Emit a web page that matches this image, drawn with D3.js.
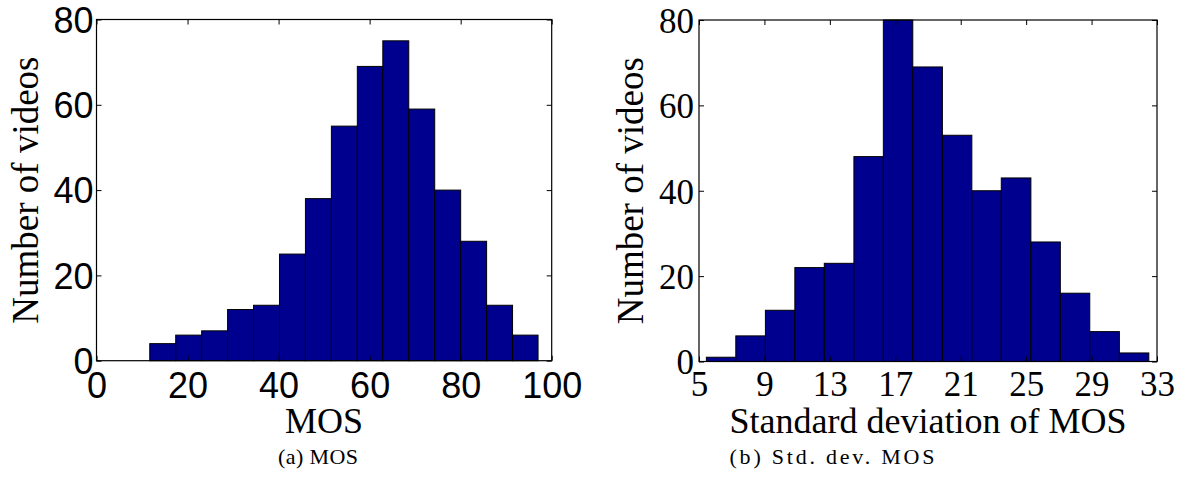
<!DOCTYPE html>
<html>
<head>
<meta charset="utf-8">
<script src="https://cdn.jsdelivr.net/npm/d3@7"></script>
<style>
  body { margin: 0; background: #fff; }
  svg { display: block; }
</style>
</head>
<body>
<svg id="chart" width="1180" height="480"></svg>
<script>
// dữ liệu: biên các bin và số video trong từng bin
const mosEdges = [11.7, 17.4, 23.1, 28.8, 34.5, 40.2, 45.9, 51.6, 57.3, 62.9, 68.6, 74.3, 80.0, 85.7, 91.4, 97.0];
const mosCounts = [4, 6, 7, 12, 13, 25, 38, 55, 69, 75, 59, 40, 28, 13, 6];
const sdEdges = [5.45, 7.25, 9.06, 10.86, 12.66, 14.47, 16.27, 18.07, 19.88, 21.68, 23.48, 25.29, 27.09, 28.89, 30.70, 32.50];
const sdCounts = [1, 6, 12, 22, 23, 48, 80, 69, 53, 40, 43, 28, 16, 7, 2];

const mosTicks = [0, 20, 40, 60, 80, 100];
const sdTicks = [5, 9, 13, 17, 21, 25, 29, 33];
const countTicks = [0, 20, 40, 60, 80];

const svg = d3.select("#chart");
const barColor = "#00008f";
const serif = "'Liberation Serif', 'Times New Roman', serif";
const sans = "'Liberation Sans', Arial, Helvetica, sans-serif";

function drawPanel(p) {
  const x = d3.scaleLinear().domain(p.xDomain).range([p.left, p.right]);
  const y = d3.scaleLinear().domain([0, 80]).range([p.bottom, p.top]);

  const bins = p.counts.map((c, i) => ({ x0: p.edges[i], x1: p.edges[i + 1], count: c }));

  // vẽ cột
  svg.append("g").selectAll("rect")
    .data(bins)
    .enter()
    .append("rect")
    .attr("x", d => x(d.x0))
    .attr("y", d => y(d.count))
    .attr("width", d => x(d.x1) - x(d.x0))
    .attr("height", d => y(0) - y(d.count))
    .attr("fill", barColor)
    .attr("stroke", "#000")
    .attr("stroke-width", 1);

  // trục x dưới
  const xb = svg.append("g")
    .attr("transform", `translate(0,${p.bottom})`)
    .call(d3.axisBottom(x).tickValues(p.xTicks).tickSize(-5).tickPadding(p.xPad).tickFormat(d3.format("d")));
  // trục x trên (chỉ vạch)
  const xt = svg.append("g")
    .attr("transform", `translate(0,${p.top})`)
    .call(d3.axisTop(x).tickValues(p.xTicks).tickSize(-5).tickFormat(""));
  // trục y trái
  const yl = svg.append("g")
    .attr("transform", `translate(${p.left},0)`)
    .call(d3.axisLeft(y).tickValues(countTicks).tickSize(-5).tickPadding(p.yPad));
  // trục y phải (chỉ vạch)
  const yr = svg.append("g")
    .attr("transform", `translate(${p.right},0)`)
    .call(d3.axisRight(y).tickValues(countTicks).tickSize(-5).tickFormat(""));

  [xb, xt, yl, yr].forEach(g => {
    g.select(".domain").remove();
    g.selectAll(".tick line").attr("stroke", "#000").attr("stroke-width", 1);
  });
  [xb, yl].forEach(g => {
    g.selectAll(".tick text")
      .attr("fill", "#000")
      .style("font-family", p.tickFont)
      .style("font-size", p.tickSize + "px");
  });
  yl.selectAll(".tick text").attr("dy", "0.35em");

  // khung
  svg.append("rect")
    .attr("x", p.left)
    .attr("y", p.top)
    .attr("width", p.right - p.left)
    .attr("height", p.bottom - p.top)
    .attr("fill", "none")
    .attr("stroke", "#000")
    .attr("stroke-width", 1.2);

  // tên trục x
  svg.append("text")
    .attr("x", (p.left + p.right) / 2)
    .attr("y", 433)
    .attr("text-anchor", "middle")
    .style("font-family", serif)
    .style("font-size", "36px")
    .text(p.xLabel);

  // tên trục y
  svg.append("text")
    .attr("transform", `translate(${p.yLabelX},${(p.top + p.bottom) / 2}) rotate(-90)`)
    .attr("text-anchor", "middle")
    .style("font-family", serif)
    .style("font-size", "37px")
    .text("Number of videos");

  // chú thích dưới hình
  svg.append("text")
    .attr("x", p.captionX)
    .attr("y", 464)
    .attr("text-anchor", "middle")
    .attr("textLength", p.captionLen)
    .attr("lengthAdjust", "spacing")
    .style("font-family", serif)
    .style("font-size", "22px")
    .text(p.caption);
}

drawPanel({
  left: 96.5, right: 551.7, top: 19.5, bottom: 360.7,
  xDomain: [0, 100], xTicks: mosTicks,
  edges: mosEdges, counts: mosCounts,
  tickFont: sans, tickSize: 36, xPad: 12, yPad: 3,
  xLabel: "MOS", yLabelX: 38,
  caption: "(a) MOS", captionX: 318, captionLen: 80
});

drawPanel({
  left: 699, right: 1157, top: 20, bottom: 361.5,
  xDomain: [5, 33], xTicks: sdTicks,
  edges: sdEdges, counts: sdCounts,
  tickFont: serif, tickSize: 35, xPad: 10, yPad: 5,
  xLabel: "Standard deviation of MOS", yLabelX: 643,
  caption: "(b) Std. dev. MOS", captionX: 832, captionLen: 205
});
</script>
</body>
</html>
